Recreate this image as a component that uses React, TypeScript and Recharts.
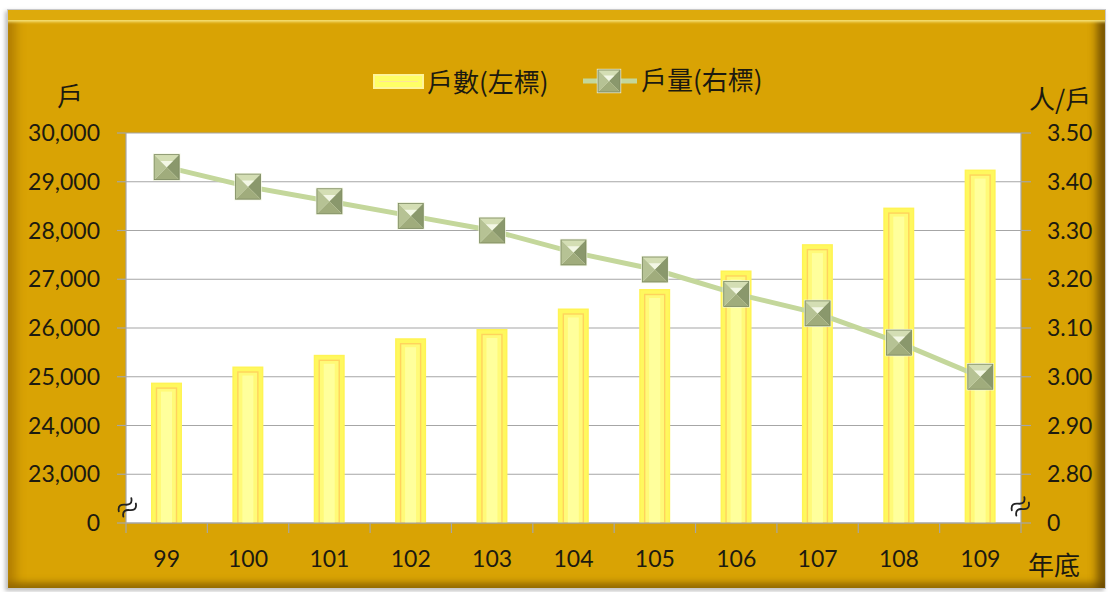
import React from 'react';
import { ComposedChart, Bar, Line, XAxis, YAxis, CartesianGrid } from 'recharts';

// ---- data ----
const years = ['99', '100', '101', '102', '103', '104', '105', '106', '107', '108', '109'];
const households = [24880, 25210, 25450, 25790, 25980, 26400, 26800, 27180, 27720, 28470, 29250];
const personsPerHousehold = [3.43, 3.39, 3.36, 3.33, 3.3, 3.255, 3.22, 3.17, 3.13, 3.07, 3.0];
const leftTickLabels = ['0', '23,000', '24,000', '25,000', '26,000', '27,000', '28,000', '29,000', '30,000'];
const rightTickLabels = ['0', '2.80', '2.90', '3.00', '3.10', '3.20', '3.30', '3.40', '3.50'];

// broken axes: the lowest interval stands for 0 .. 23,000 (left) and 0 .. 2.80 (right)
const LEFT_BASE = 22000;
const LEFT_STEP = 1000;
const RIGHT_BASE = 2.7;
const RIGHT_STEP = 0.1;

const data = years.map((y, i) => ({
  year: y,
  households: households[i] - LEFT_BASE,
  ratio: Math.round(((personsPerHousehold[i] - RIGHT_BASE) / RIGHT_STEP) * 1000) / 1000,
}));
const leftTicks = leftTickLabels.map((_, i) => i * LEFT_STEP);
const rightTicks = rightTickLabels.map((_, i) => i);

// ---- layout ----
const W = 1113;
const H = 592;
const LEFT_W = 126;
const RIGHT_W = 92;
const PLOT_W = W - LEFT_W - RIGHT_W;
const HALF_BAND = PLOT_W / years.length / 2;

const GOLD = '#D9A304';
const GRID = '#A6A6A6';
const TEXT = '#1c1a10';
const LINE = '#C4D79B';
const CJK = '"Noto Sans CJK TC", "Noto Sans CJK SC", sans-serif';
const NUM = 'Lato, "Open Sans", sans-serif';
const FS = 23;

const BarShape = (props: any) => {
  const { x, y, width, height } = props;
  if (!height || height <= 0) return null;
  return (
    <g>
      <rect x={x} y={y} width={width} height={height} fill="#FFF455" />
      <rect x={x + 1.5} y={y + 1.5} width={width - 3} height={height - 1.5} fill="#FFF85E" />
      <rect x={x + 5.5} y={y + 5.5} width={width - 11} height={height - 5.5} fill="#FFFA78" stroke="#FFD35C" strokeWidth={1.4} />
      <rect x={x + 10} y={y + 9} width={width - 20} height={height - 9} fill="#FFFF9C" />
    </g>
  );
};

const Pyramid = ({ cx, cy, s }: { cx: number; cy: number; s: number }) => {
  const p = (pts: number[][]) => pts.map((q) => q.join(',')).join(' ');
  return (
    <g>
      <rect x={cx - s - 1.2} y={cy - s - 1.2} width={2 * s + 2.4} height={2 * s + 2.4} fill="#F2F6E0" opacity={0.9} />
      <polygon points={p([[cx - s, cy - s], [cx + s, cy - s], [cx, cy]])} fill="#D4DEB4" />
      <polygon points={p([[cx + s, cy - s], [cx + s, cy + s], [cx, cy]])} fill="#8A986C" />
      <polygon points={p([[cx - s, cy + s], [cx + s, cy + s], [cx, cy]])} fill="#A0AC7C" />
      <polygon points={p([[cx - s, cy - s], [cx - s, cy + s], [cx, cy]])} fill="#B6C294" />
      <polygon points={p([[cx - s * 0.5, cy - s * 0.5], [cx + s * 0.5, cy - s * 0.5], [cx, cy]])} fill="#F6F9EA" opacity={0.9} />
      <rect x={cx - s} y={cy - s} width={2 * s} height={2 * s} fill="none" stroke="#7A885E" strokeWidth={0.8} />
    </g>
  );
};

const Dot = (props: any) => {
  const { cx, cy, index } = props;
  if (cx == null || cy == null) return <g key={`d${index}`} />;
  return (
    <g key={`d${index}`}>
      <Pyramid cx={cx} cy={cy} s={12.5} />
    </g>
  );
};

const XTick = (props: any) => {
  const { x, y, payload, index } = props;
  const last = index === years.length - 1;
  return (
    <g>
      <line x1={x - HALF_BAND} y1={y} x2={x - HALF_BAND} y2={y + 10} stroke={GRID} strokeWidth={1.2} />
      {last && <line x1={x + HALF_BAND} y1={y} x2={x + HALF_BAND} y2={y + 10} stroke={GRID} strokeWidth={1.2} />}
      <text x={x} y={y + 35} textAnchor="middle" dominantBaseline="central" fill={TEXT} fontSize={FS} fontFamily={NUM}>
        {payload.value}
      </text>
    </g>
  );
};

const BreakMark = ({ left, top }: { left: number; top: number }) => (
  <svg style={{ position: 'absolute', left, top }} width={26} height={26} viewBox="-13 -13 26 26">
    <g transform="rotate(-40)" fill="none" stroke="#222" strokeWidth={1.8} strokeLinecap="round">
      <path d="M-9,-2 C-6,-7.5 -2.5,-5.5 0,-3 S6,1.5 9,-4" />
      <path d="M-9,5 C-6,-0.5 -2.5,1.5 0,4 S6,8.5 9,3" />
    </g>
  </svg>
);

const abs = (extra: React.CSSProperties): React.CSSProperties => ({ position: 'absolute', ...extra });

export default function App() {
  return (
    <div style={{ position: 'absolute', left: 0, top: 0, width: W, height: H, background: '#fff', overflow: 'hidden' }}>
      <div
        style={abs({
          left: 7,
          top: 9,
          width: 1099,
          height: 580,
          background: GOLD,
          boxSizing: 'border-box',
          border: '1px solid #C8C8C8',
          boxShadow:
            'inset 0 12px 0 -2px #DDAA0C, inset 0 14px 3px -2px #F6E27A, inset 14px 0 10px -6px rgba(150,100,0,0.55), inset -12px 0 8px -4px rgba(90,60,0,0.75), inset 0 -10px 6px -4px rgba(120,85,0,0.6), -2px 2px 4px rgba(0,0,0,0.25)',
        })}
      />
      <div style={abs({ left: 0, top: 0 })}>
        <ComposedChart width={W} height={H} data={data} margin={{ top: 133, right: 0, bottom: 19, left: 0 }} barSize={31}>
          <CartesianGrid yAxisId="left" vertical={false} stroke={GRID} strokeWidth={1.2} fill="#FFFFFF" />
          <XAxis
            dataKey="year"
            height={50}
            tickLine={false}
            tickSize={0}
            tickMargin={0}
            axisLine={{ stroke: GRID, strokeWidth: 1.2 }}
            tick={<XTick />}
            interval={0}
          />
          <YAxis
            yAxisId="left"
            orientation="left"
            width={LEFT_W}
            domain={[0, leftTicks[leftTicks.length - 1]]}
            ticks={leftTicks}
            interval={0}
            allowDataOverflow
            tickFormatter={(v: number) => leftTickLabels[Math.round(v / LEFT_STEP)]}
            tickSize={9}
            tickMargin={17}
            axisLine={{ stroke: GRID, strokeWidth: 1.2 }}
            tickLine={{ stroke: GRID, strokeWidth: 1.2 }}
            tick={{ fill: TEXT, fontSize: FS, fontFamily: NUM }}
          />
          <YAxis
            yAxisId="right"
            orientation="right"
            width={RIGHT_W}
            domain={[0, rightTicks[rightTicks.length - 1]]}
            ticks={rightTicks}
            interval={0}
            allowDataOverflow
            tickFormatter={(v: number) => rightTickLabels[Math.round(v)]}
            tickSize={10}
            tickMargin={16}
            axisLine={{ stroke: GRID, strokeWidth: 1.2 }}
            tickLine={{ stroke: GRID, strokeWidth: 1.2 }}
            tick={{ fill: TEXT, fontSize: FS, fontFamily: NUM }}
          />
          <Bar yAxisId="left" dataKey="households" shape={<BarShape />} isAnimationActive={false} />
          <Line
            yAxisId="right"
            dataKey="ratio"
            stroke={LINE}
            strokeWidth={5}
            dot={(p: any) => <Dot key={`dot${p.index}`} {...p} />}
            activeDot={false}
            isAnimationActive={false}
          />
        </ComposedChart>
      </div>

      {/* legend */}
      <div style={abs({ left: 373, top: 74, width: 51, height: 15, background: '#FFFF66', boxSizing: 'border-box', border: '2px solid #FFF59A' })}>
        <div style={abs({ left: 4, right: 4, top: 5, height: 1, background: '#FFE39A' })} />
      </div>
      <div style={abs({ left: 427, top: 66, fontFamily: CJK, fontSize: 26, lineHeight: '30px', color: TEXT, whiteSpace: 'nowrap' })}>
        戶數(左標)
      </div>
      <svg style={abs({ left: 583, top: 68 })} width={54} height={26}>
        <line x1={0} y1={13} x2={54} y2={13} stroke={LINE} strokeWidth={5} />
        <Pyramid cx={26} cy={13} s={11} />
      </svg>
      <div style={abs({ left: 641, top: 64, fontFamily: CJK, fontSize: 26, lineHeight: '30px', color: TEXT, whiteSpace: 'nowrap' })}>
        戶量(右標)
      </div>

      {/* axis titles */}
      <div style={abs({ left: 57, top: 80, fontFamily: CJK, fontSize: 26, lineHeight: '30px', color: TEXT })}>戶</div>
      <div style={abs({ left: 1029, top: 83, fontFamily: CJK, fontSize: 26, lineHeight: '30px', color: TEXT, whiteSpace: 'nowrap' })}>人/戶</div>
      <div style={abs({ left: 1028, top: 549, fontFamily: CJK, fontSize: 26, lineHeight: '30px', color: TEXT, whiteSpace: 'nowrap' })}>年底</div>

      {/* axis break marks */}
      <BreakMark left={114} top={494} />
      <BreakMark left={1007} top={493} />
    </div>
  );
}
